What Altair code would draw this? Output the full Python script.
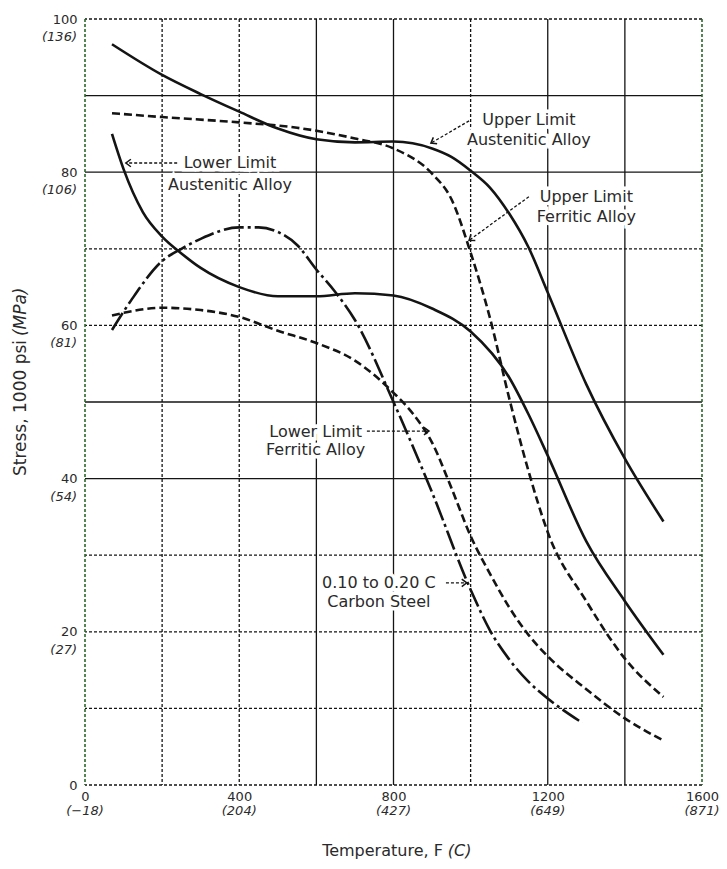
import math
import pandas as pd
import altair as alt

# --- curve: temperatura (F) e sforzo (1000 psi) ---
UA_F = [70, 200, 300, 400, 500, 600, 700, 800, 900, 950, 1000, 1050, 1100, 1150, 1200, 1300, 1400, 1500]
UA_S = [96.7, 92.7, 90.2, 87.9, 85.7, 84.3, 83.9, 84.0, 83.1, 82.0, 80.2, 78.0, 74.6, 70.2, 64.3, 52.3, 42.6, 34.4]

UF_F = [70, 200, 400, 550, 700, 800, 900, 950, 1000, 1050, 1100, 1150, 1200, 1300, 1400, 1500]
UF_S = [87.7, 87.2, 86.5, 85.8, 84.4, 83.1, 79.8, 76.5, 69.5, 61.0, 50.5, 41.0, 33.0, 24.0, 16.5, 11.5]

LA_F = [70, 100, 150, 200, 250, 300, 400, 500, 600, 700, 800, 900, 1000, 1100, 1150, 1200, 1300, 1400, 1500]
LA_S = [85.0, 80.4, 74.8, 71.6, 69.4, 67.5, 65.0, 63.8, 63.8, 64.2, 63.9, 62.2, 59.2, 53.2, 48.4, 43.0, 31.8, 24.0, 17.0]

LF_F = [70, 200, 300, 400, 500, 600, 700, 800, 850, 900, 950, 1000, 1050, 1100, 1150, 1200, 1300, 1400, 1500]
LF_S = [61.3, 62.3, 62.0, 61.1, 59.3, 57.7, 55.4, 51.2, 48.5, 44.7, 38.8, 32.5, 27.6, 23.2, 19.6, 16.8, 12.5, 8.7, 5.8]

CS_F = [70, 120, 200, 250, 300, 400, 450, 500, 550, 600, 650, 700, 800, 900, 1000, 1050, 1100, 1150, 1200, 1290]
CS_S = [59.4, 63.3, 68.4, 70.0, 71.3, 72.8, 72.8, 72.2, 70.5, 67.3, 64.3, 60.7, 50.0, 38.2, 25.5, 20.2, 16.4, 13.5, 11.3, 8.1]

# --- assi ---
F_TICKS = [0, 400, 800, 1200, 1600]
C_LABELS = ["(\u221218)", "(204)", "(427)", "(649)", "(871)"]
PSI_TICKS = [0, 20, 40, 60, 80, 100]
MPA_TICKS = [20, 40, 60, 80, 100]
MPA_LABELS = ["(27)", "(54)", "(81)", "(106)", "(136)"]

H_SOLID = [40, 50, 80, 90]
H_DOTTED = [0, 10, 20, 30, 60, 70, 100]
V_SOLID = [600, 800, 1200, 1400]
V_DOTTED = [200, 400, 1000]
V_FRAME = [0, 1600]

# --- etichette e frecce ---
LABEL_TEXT = ["Upper Limit", "Austenitic Alloy", "Upper Limit", "Ferritic Alloy",
              "Lower Limit", "Austenitic Alloy", "Lower Limit", "Ferritic Alloy",
              "0.10 to 0.20 C", "Carbon Steel"]
LABEL_F = [1151, 1151, 1300, 1300, 376, 376, 598, 598, 762, 762]
LABEL_S = [86.8, 84.2, 76.8, 74.2, 81.2, 78.3, 46.1, 43.7, 26.4, 23.9]

ARROW_F1 = [996, 1151, 239, 731, 936]
ARROW_S1 = [86.7, 76.8, 81.2, 46.2, 26.4]
ARROW_F2 = [897, 996, 106, 892, 990]
ARROW_S2 = [83.8, 71.1, 81.2, 46.2, 26.4]

W, H = 617, 766
FONT = "DejaVu Sans"
INK = "#141414"
TXT = "#2a2a2a"
GREEN = "#2a682a"

x_scale = alt.Scale(domain=[0, 1600], nice=False, zero=False)
y_scale = alt.Scale(domain=[0, 100], nice=False, zero=False)
x_axis = alt.Axis(values=F_TICKS, format="d", grid=False, domain=False, ticks=False,
                  labelFlush=False, labelPadding=5, labelFontSize=13, labelColor=TXT, title=None)
y_axis = alt.Axis(values=PSI_TICKS, format="d", grid=False, domain=False, ticks=False,
                  labelPadding=8, labelFontSize=13, labelColor=TXT, title=None)


def X(field):
    return alt.X(field, scale=x_scale, axis=x_axis)


def Y(field):
    return alt.Y(field, scale=y_scale, axis=y_axis)


def XD(v):
    return alt.XDatum(v, type="quantitative", scale=x_scale, axis=x_axis)


def YD(v):
    return alt.YDatum(v, type="quantitative", scale=y_scale, axis=y_axis)


def hrules(vals, dash=None):
    kw = dict(color=INK, strokeWidth=1.3)
    if dash:
        kw["strokeDash"] = dash
    return alt.Chart(pd.DataFrame({"S": vals})).mark_rule(**kw).encode(y=Y("S:Q"))


def vrules(vals, dash=None, color=INK, width=1.3):
    kw = dict(color=color, strokeWidth=width)
    if dash:
        kw["strokeDash"] = dash
    return alt.Chart(pd.DataFrame({"F": vals})).mark_rule(**kw).encode(x=X("F:Q"))


def curve(xs, ys, dash=None):
    kw = dict(color=INK, strokeWidth=2.6, interpolate="monotone")
    if dash:
        kw["strokeDash"] = dash
    return alt.Chart(pd.DataFrame({"F": xs, "S": ys})).mark_line(**kw).encode(
        x=X("F:Q"), y=Y("S:Q"))


def title_text(txt, f, s, size, italic=False, **kw):
    props = dict(fontSize=size, color=TXT, baseline="middle", **kw)
    if italic:
        props["fontStyle"] = "italic"
    return alt.Chart(pd.DataFrame({"t": [txt]})).mark_text(**props).encode(
        x=XD(f), y=YD(s), text="t:N")


DOT = [3, 2]
grid = (hrules(H_DOTTED, DOT) + hrules(H_SOLID) + vrules(V_DOTTED, DOT) + vrules(V_SOLID)
        + vrules(V_FRAME, DOT, GREEN, 1.6))

labels = pd.DataFrame({"t": LABEL_TEXT, "F": LABEL_F, "S": LABEL_S})
halo = alt.Chart(labels).mark_text(fontSize=16, color="white", stroke="white", strokeWidth=7,
                                   align="center", baseline="middle").encode(
    x=X("F:Q"), y=Y("S:Q"), text="t:N")
label_text = alt.Chart(labels).mark_text(fontSize=16, color=TXT, align="center",
                                         baseline="middle").encode(
    x=X("F:Q"), y=Y("S:Q"), text="t:N")

curves = (curve(UA_F, UA_S) + curve(UF_F, UF_S, [8, 4]) + curve(LA_F, LA_S)
          + curve(LF_F, LF_S, [8, 4]) + curve(CS_F, CS_S, [20, 4, 3, 4]))

arrows = pd.DataFrame({"F1": ARROW_F1, "S1": ARROW_S1, "F2": ARROW_F2, "S2": ARROW_S2})
arrows["ang"] = [
    math.degrees(math.atan2(-(s2 - s1) * H / 100, (f2 - f1) * W / 1600)) % 360
    for f1, s1, f2, s2 in zip(ARROW_F1, ARROW_S1, ARROW_F2, ARROW_S2)
]
arrow_lines = alt.Chart(arrows).mark_rule(color=INK, strokeWidth=1.3, strokeDash=[3, 2]).encode(
    x=X("F1:Q"), y=Y("S1:Q"), x2="F2:Q", y2="S2:Q")
arrow_heads = alt.Chart(arrows).mark_point(shape="M-1,-0.75L0,0L-1,0.75", filled=False,
                                           stroke=INK, strokeWidth=1.5, size=100,
                                           opacity=1).encode(
    x=X("F2:Q"), y=Y("S2:Q"), angle=alt.Angle("ang:Q", scale=None))

# seconda riga delle etichette degli assi (unita SI, in corsivo)
c_text = alt.Chart(pd.DataFrame({"F": F_TICKS, "t": C_LABELS})).mark_text(
    fontSize=13, fontStyle="italic", color=TXT, baseline="middle", dy=26).encode(
    x=X("F:Q"), y=YD(0), text="t:N")
mpa_text = alt.Chart(pd.DataFrame({"S": MPA_TICKS, "t": MPA_LABELS})).mark_text(
    fontSize=13, fontStyle="italic", color=TXT, align="right", baseline="middle",
    dx=-8, dy=18).encode(
    x=XD(0), y=Y("S:Q"), text="t:N")

# titoli degli assi
x_title = title_text("Temperature, F", 928, 0, 16, align="right", dy=66)
x_title_c = title_text("(C)", 941, 0, 16, italic=True, align="left", dy=66)
y_title = title_text("Stress, 1000 psi", -166, 58.1, 17, align="right", angle=270)
y_title_mpa = title_text("(MPa)", -166, 58.6, 17, italic=True, align="left", angle=270)

chart = alt.layer(
    grid, halo, curves, arrow_lines, arrow_heads, label_text,
    c_text, mpa_text, x_title, x_title_c, y_title, y_title_mpa
).properties(
    width=W,
    height=H,
    autosize=alt.AutoSizeParams(type="none"),
    padding={"left": 77, "top": 11, "right": 17, "bottom": 74},
).configure(
    font=FONT,
    background="white",
).configure_view(
    strokeWidth=0,
)

chart.save("out.html", embed_options={"renderer": "svg", "actions": False})
